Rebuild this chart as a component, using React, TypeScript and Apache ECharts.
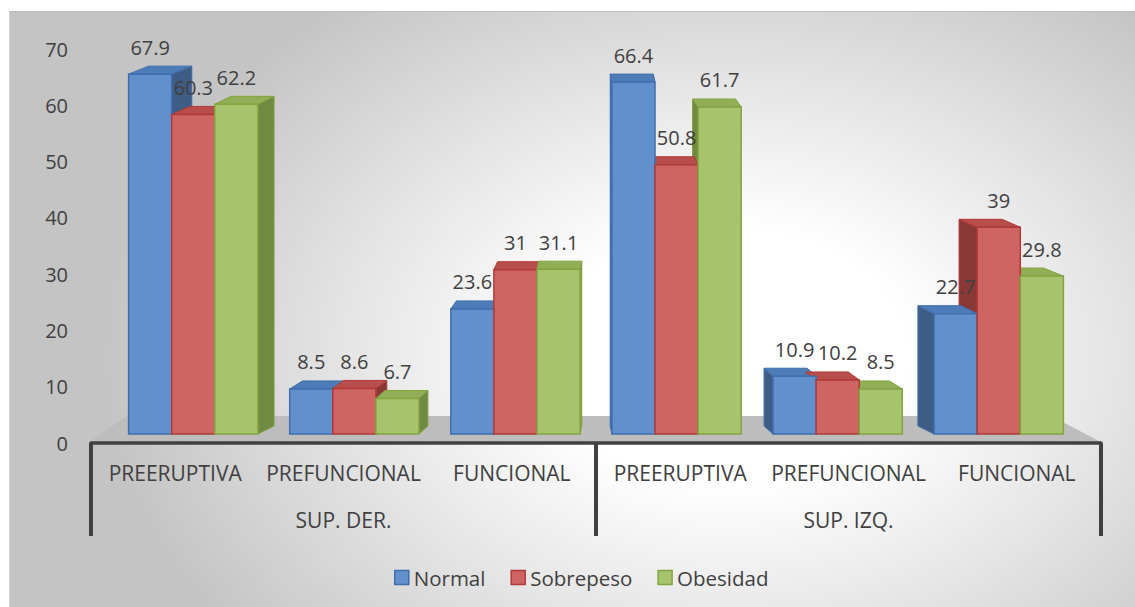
import React, { useEffect, useRef } from "react";
import * as echarts from "echarts";

const categories = ["PREERUPTIVA", "PREFUNCIONAL", "FUNCIONAL", "PREERUPTIVA", "PREFUNCIONAL", "FUNCIONAL"];
const groups = ["SUP. DER.", "SUP. IZQ."];
const seriesNames = ["Normal", "Sobrepeso", "Obesidad"];
const normal = [67.9, 8.5, 23.6, 66.4, 10.9, 22.7];
const sobrepeso = [60.3, 8.6, 31, 50.8, 10.2, 39];
const obesidad = [62.2, 6.7, 31.1, 61.7, 8.5, 29.8];
const yMin = 0;
const yMax = 70;
const yInterval = 10;

const palette = [
  { front: "#6190CC", edge: "#3F6EAE", side: "#3F5C84", top: "#4D7CB9" },
  { front: "#CE6563", edge: "#B03A37", side: "#8A3836", top: "#B84E4B" },
  { front: "#A6C46B", edge: "#83A43F", side: "#6E8A43", top: "#90AF56" },
];

const FONT = "'Open Sans', 'Noto Sans', sans-serif";
const TXT = "#404040";
const W = 1126;
const H = 596;
const GRID_LEFT = 81;
const GRID_WIDTH = 1010;

export default function App() {
  const ref = useRef<HTMLDivElement>(null);
  useEffect(() => {
    if (!ref.current) return;
    const chart = echarts.init(ref.current, null, { renderer: "svg", width: W, height: H });
    const valueSets = [normal, sobrepeso, obesidad];

    const makeSeries = (s: number) => ({
      type: "custom",
      name: seriesNames[s],
      xAxisIndex: 2,
      yAxisIndex: 1,
      itemStyle: { color: palette[s].front, borderColor: palette[s].edge },
      encode: { x: 0, y: 1 },
      data: valueSets[s].map((v, i) => [i, v]),
      renderItem: (params: any, api: any) => {
        const cat = api.value(0);
        const val = api.value(1);
        const top = api.coord([cat, val]);
        const base = api.coord([cat, 0]);
        const band = api.size([1, 0])[0];
        const w = band * 0.256;
        const cs = params.coordSys;
        const gc = cs.x + cs.width / 2;
        const shift = (gc - top[0]) * 0.043;
        const cx = top[0] + shift + (s - 1) * w;
        const x0 = cx - w / 2;
        const x1 = cx + w / 2;
        let dx = (gc - cx) * 0.045;
        dx = Math.max(-22, Math.min(22, dx));
        const dy = -8;
        const yt = top[1];
        const yb = base[1];
        const p = palette[s];
        const children: any[] = [];
        if (dx >= 0) {
          children.push({
            type: "polygon",
            z2: 1,
            shape: { points: [[x1, yt], [x1 + dx, yt + dy], [x1 + dx, yb + dy], [x1, yb]] },
            style: { fill: p.side, stroke: p.edge, lineWidth: 1 },
          });
        } else {
          children.push({
            type: "polygon",
            z2: 1,
            shape: { points: [[x0, yt], [x0 + dx, yt + dy], [x0 + dx, yb + dy], [x0, yb]] },
            style: { fill: p.side, stroke: p.edge, lineWidth: 1 },
          });
        }
        children.push({
          type: "polygon",
          z2: 2,
          shape: { points: [[x0, yt], [x0 + dx, yt + dy], [x1 + dx, yt + dy], [x1, yt]] },
          style: { fill: p.top, stroke: p.edge, lineWidth: 1 },
        });
        children.push({
          type: "rect",
          z2: 10,
          shape: { x: x0, y: yt, width: w, height: yb - yt },
          style: { fill: p.front, stroke: p.edge, lineWidth: 1.5 },
        });
        children.push({
          type: "text",
          z2: 20,
          style: {
            text: String(val),
            x: cx,
            y: yt - 27,
            align: "center",
            verticalAlign: "middle",
            fill: TXT,
            fontSize: 20,
            fontFamily: FONT,
          },
        });
        return { type: "group", children };
      },
    });

    chart.setOption({
      animation: false,
      backgroundColor: "transparent",
      textStyle: { fontFamily: FONT },
      grid: [
        { left: GRID_LEFT, width: GRID_WIDTH, top: 37, bottom: 165 },
        { left: GRID_LEFT, width: GRID_WIDTH, top: 51, bottom: 174 },
      ],
      legend: {
        left: 384,
        top: 555,
        padding: 0,
        itemWidth: 14,
        itemHeight: 14,
        itemGap: 25,
        icon: "rect",
        textStyle: { fontSize: 20.5, color: TXT, fontFamily: FONT },
        data: seriesNames.map((n, i) => ({
          name: n,
          itemStyle: { color: palette[i].front, borderColor: palette[i].edge, borderWidth: 1.5 },
        })),
      },
      xAxis: [
        {
          gridIndex: 0,
          type: "category",
          position: "bottom",
          data: categories,
          axisLine: { show: true, lineStyle: { color: TXT, width: 3.5 } },
          axisTick: { show: false },
          axisLabel: { interval: 0, margin: 19, fontSize: 21, color: TXT, fontFamily: FONT },
          splitLine: { show: false },
        },
        {
          gridIndex: 0,
          type: "category",
          position: "bottom",
          data: groups,
          axisLine: { show: false },
          axisTick: { show: true, length: 93, lineStyle: { color: TXT, width: 4 } },
          axisLabel: { interval: 0, margin: 66, fontSize: 21, color: TXT, fontFamily: FONT },
          splitLine: { show: false },
        },
        {
          gridIndex: 1,
          type: "category",
          data: categories,
          show: false,
        },
      ],
      yAxis: [
        {
          gridIndex: 0,
          type: "value",
          min: yMin,
          max: yMax,
          interval: yInterval,
          axisLine: { show: false },
          axisTick: { show: false },
          splitLine: { show: false },
          axisLabel: { margin: 23, fontSize: 20, color: TXT, fontFamily: FONT },
        },
        {
          gridIndex: 1,
          type: "value",
          min: yMin,
          max: yMax,
          interval: yInterval,
          show: false,
        },
      ],
      series: [makeSeries(0), makeSeries(1), makeSeries(2)],
    });

    const y0 = chart.convertToPixel({ yAxisIndex: 0 } as any, 0) as number;
    const fx0 = GRID_LEFT - 2;
    const fx1 = GRID_LEFT + GRID_WIDTH;
    chart.setOption({
      graphic: [
        {
          type: "polygon",
          z: -1,
          silent: true,
          shape: {
            points: [
              [fx0, y0 - 1],
              [fx0 + 38, y0 - 27],
              [fx1 - 50, y0 - 27],
              [fx1, y0 - 1],
            ],
          },
          style: { fill: "#BDBDBD" },
        },
      ],
    });

    return () => chart.dispose();
  }, []);

  return (
    <div
      style={{
        position: "absolute",
        left: 9,
        top: 11,
        width: W,
        height: H,
        boxSizing: "border-box",
        borderTop: "1px solid #BDBDBD",
        borderLeft: "1px solid #D0D0D0",
        background:
          "radial-gradient(ellipse 56% 76% at 64% 58%, #ffffff 0%, #ffffff 28%, #e4e4e4 62%, #c4c4c4 100%)",
      }}
    >
      <div ref={ref} style={{ position: "absolute", left: 0, top: 0, width: W, height: H }} />
    </div>
  );
}
